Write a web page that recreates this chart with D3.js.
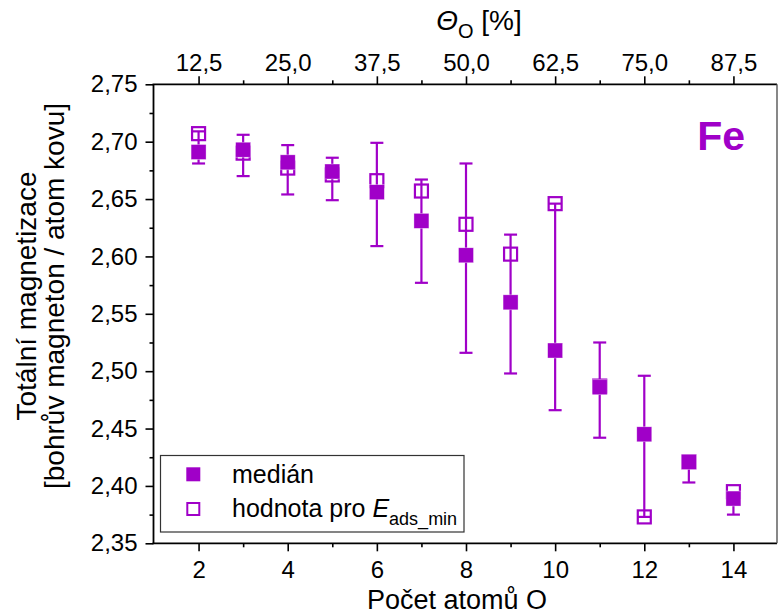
<!DOCTYPE html>
<html>
<head>
<meta charset="utf-8">
<script src="https://cdn.jsdelivr.net/npm/d3@7"></script>
<style>
  html, body { margin: 0; padding: 0; background: #fff; }
  svg { display: block; font-family: "Liberation Sans", Arial, sans-serif; }
</style>
</head>
<body>
<svg id="chart" width="778" height="615"></svg>
<script>
// Number of adsorbed O atoms
const nO = [2, 3, 4, 5, 6, 7, 8, 9, 10, 11, 12, 13, 14];
// Median total magnetization (μB per metal atom)
const median = [2.691, 2.693, 2.682, 2.674, 2.656, 2.631, 2.601, 2.560, 2.518, 2.486, 2.445, 2.421, 2.389];
// Value for the configuration with minimal adsorption energy
const eadsMin = [2.707, 2.690, 2.677, 2.671, 2.666, 2.657, 2.628, 2.602, 2.646, 2.487, 2.373, 2.421, 2.395];
// Range of values (error bars around the median)
const rangeHigh = [2.709, 2.706, 2.697, 2.686, 2.699, 2.667, 2.681, 2.619, 2.646, 2.525, 2.496, 2.424, 2.393];
const rangeLow  = [2.681, 2.670, 2.654, 2.649, 2.609, 2.577, 2.516, 2.498, 2.466, 2.442, 2.373, 2.403, 2.375];

// Axis ticks
const xMajor = [2, 4, 6, 8, 10, 12, 14];
const xMinor = [3, 5, 7, 9, 11, 13];
const yMajor = [2.35, 2.40, 2.45, 2.50, 2.55, 2.60, 2.65, 2.70, 2.75];
const yMinor = [2.375, 2.425, 2.475, 2.525, 2.575, 2.625, 2.675, 2.725];
const thetaMajor = [12.5, 25.0, 37.5, 50.0, 62.5, 75.0, 87.5];
const thetaMinor = [18.75, 31.25, 43.75, 56.25, 68.75, 81.25];
const thetaLabels = ["12,5", "25,0", "37,5", "50,0", "62,5", "75,0", "87,5"];

const purple = "#A000C8";
const svg = d3.select("#chart");

const pL = 153.5, pR = 777, pT = 84.3, pB = 543.3;

const x = d3.scaleLinear().domain([1, 15]).range([154, 778]);
const theta = d3.scaleLinear().domain([6.25, 93.75]).range([154, 778]);
const y = d3.scaleLinear().domain([2.35, 2.75]).range([pB, pT]);

const comma = f => v => d3.format(f)(v).replace(".", ",");
const tickFont = 24;

function styleAxis(g) {
  g.select(".domain").remove();
  g.selectAll(".tick line").attr("stroke", "#000").attr("stroke-width", 1.6);
  g.selectAll(".tick text").attr("font-size", tickFont).attr("fill", "#000")
    .attr("font-family", "Liberation Sans, Arial, sans-serif");
}

// Left axis
svg.append("g").attr("transform", `translate(${pL},0)`)
  .call(d3.axisLeft(y).tickValues(yMajor).tickSize(8).tickPadding(8).tickFormat(comma(".2f")))
  .call(styleAxis);
svg.append("g").attr("transform", `translate(${pL},0)`)
  .call(d3.axisLeft(y).tickValues(yMinor).tickSize(4).tickFormat(""))
  .call(styleAxis);

// Bottom axis
svg.append("g").attr("transform", `translate(0,${pB})`)
  .call(d3.axisBottom(x).tickValues(xMajor).tickSize(8).tickPadding(10).tickFormat(d3.format("d")))
  .call(styleAxis);
svg.append("g").attr("transform", `translate(0,${pB})`)
  .call(d3.axisBottom(x).tickValues(xMinor).tickSize(4).tickFormat(""))
  .call(styleAxis);

// Top axis (coverage)
svg.append("g").attr("transform", `translate(0,${pT})`)
  .call(d3.axisTop(theta).tickValues(thetaMajor).tickSize(8).tickPadding(5)
    .tickFormat((d, i) => thetaLabels[i]))
  .call(styleAxis);
svg.append("g").attr("transform", `translate(0,${pT})`)
  .call(d3.axisTop(theta).tickValues(thetaMinor).tickSize(4).tickFormat(""))
  .call(styleAxis);

// Frame
svg.append("line").attr("x1", pL).attr("x2", pL).attr("y1", pT).attr("y2", pB)
  .attr("stroke", "#000").attr("stroke-width", 1.8);
svg.append("line").attr("x1", pL - 1).attr("x2", pR).attr("y1", pB).attr("y2", pB)
  .attr("stroke", "#000").attr("stroke-width", 1.8);
svg.append("line").attr("x1", pL - 1).attr("x2", pR).attr("y1", pT).attr("y2", pT)
  .attr("stroke", "#000").attr("stroke-width", 1.8);
svg.append("line").attr("x1", pR).attr("x2", pR).attr("y1", pT).attr("y2", pB)
  .attr("stroke", "#555").attr("stroke-width", 1.4);

// Data series
const rows = nO.map((n, i) => ({ n, med: median[i], emin: eadsMin[i], hi: rangeHigh[i], lo: rangeLow[i] }));
const plot = svg.append("g");
const sq = 15, capW = 13;

// Open squares: value for minimal adsorption energy
plot.selectAll("rect.open").data(rows).join("rect").attr("class", "open")
  .attr("x", d => x(d.n) - sq / 2 + 1).attr("y", d => y(d.emin) - sq / 2 + 1)
  .attr("width", sq - 2).attr("height", sq - 2)
  .attr("fill", "none").attr("stroke", purple).attr("stroke-width", 2.2);

// Error bars
const eb = plot.selectAll("g.eb").data(rows).join("g").attr("class", "eb")
  .attr("stroke", purple).attr("stroke-width", 2.2);
eb.append("line").attr("x1", d => x(d.n)).attr("x2", d => x(d.n))
  .attr("y1", d => y(d.hi)).attr("y2", d => y(d.lo));
eb.append("line").attr("x1", d => x(d.n) - capW / 2).attr("x2", d => x(d.n) + capW / 2)
  .attr("y1", d => y(d.hi)).attr("y2", d => y(d.hi));
eb.append("line").attr("x1", d => x(d.n) - capW / 2).attr("x2", d => x(d.n) + capW / 2)
  .attr("y1", d => y(d.lo)).attr("y2", d => y(d.lo));

// Filled squares: median
plot.selectAll("rect.med").data(rows).join("rect").attr("class", "med")
  .attr("x", d => x(d.n) - sq / 2).attr("y", d => y(d.med) - sq / 2)
  .attr("width", sq).attr("height", sq)
  .attr("fill", purple).attr("stroke", "#fff").attr("stroke-width", 0.6).attr("stroke-opacity", 0.6);

// Element label
svg.append("text").attr("x", 745).attr("y", 150).attr("text-anchor", "end")
  .attr("font-size", 41).attr("font-weight", "bold").attr("fill", purple).text("Fe");

// Axis titles
svg.append("text").attr("x", 457).attr("y", 609).attr("text-anchor", "middle")
  .attr("font-size", 27).attr("fill", "#000").text("Počet atomů O");

const yt = svg.append("text").attr("transform", "translate(0,296) rotate(-90)")
  .attr("text-anchor", "middle").attr("font-size", 28).attr("fill", "#000");
yt.append("tspan").attr("x", 0).attr("y", 36).text("Totální magnetizace");
yt.append("tspan").attr("x", 0).attr("y", 64).text("[bohrův magneton / atom kovu]");

const tt = svg.append("text").attr("x", 479).attr("y", 30).attr("text-anchor", "middle")
  .attr("font-size", 28).attr("fill", "#000");
tt.append("tspan").attr("font-style", "italic").text("Θ");
tt.append("tspan").attr("font-size", 20).attr("dy", 8).text("O");
tt.append("tspan").attr("dy", -8).text(" [%]");

// Legend
const lg = svg.append("g");
lg.append("rect").attr("x", 160.5).attr("y", 455.5).attr("width", 303.5).attr("height", 76.5)
  .attr("fill", "#fff").attr("stroke", "#333").attr("stroke-width", 1.2);
lg.append("rect").attr("x", 193.3 - 7).attr("y", 474.3 - 7).attr("width", 14).attr("height", 14)
  .attr("fill", purple);
lg.append("rect").attr("x", 193.3 - 6).attr("y", 509 - 6).attr("width", 12).attr("height", 12)
  .attr("fill", "none").attr("stroke", purple).attr("stroke-width", 2);
lg.append("text").attr("x", 232).attr("y", 482.5).attr("font-size", 25).attr("fill", "#000").text("medián");
const l2 = lg.append("text").attr("x", 232).attr("y", 517).attr("font-size", 25).attr("fill", "#000");
l2.append("tspan").text("hodnota pro ");
l2.append("tspan").attr("font-style", "italic").text("E");
l2.append("tspan").attr("font-size", 18).attr("dy", 8).text("ads_min");
</script>
</body>
</html>
